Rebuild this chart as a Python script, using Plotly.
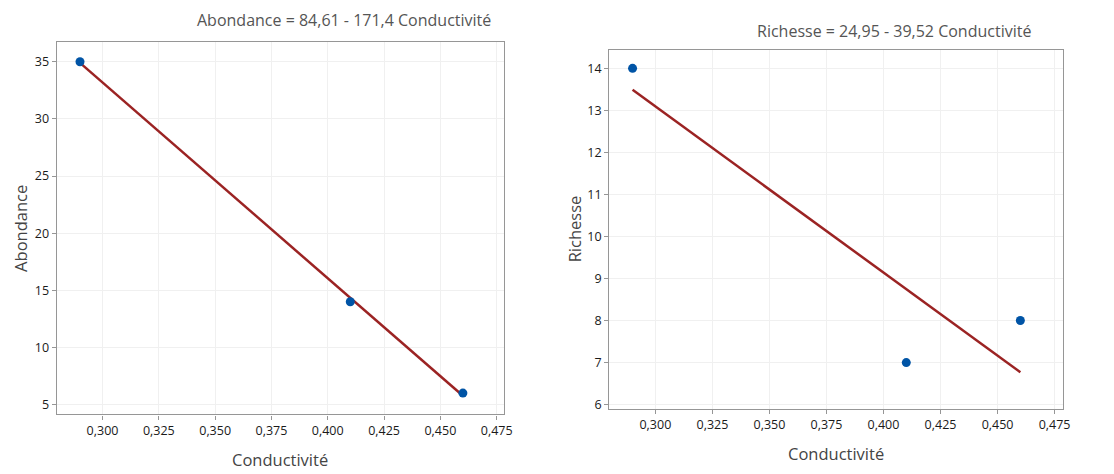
import plotly.graph_objects as go

conductivite = [0.29, 0.41, 0.46]
abondance = [35, 14, 6]
richesse = [14, 7, 8]
coef_abondance = [84.61, -171.4]
coef_richesse = [24.95, -39.52]
x_ticks = [0.300, 0.325, 0.350, 0.375, 0.400, 0.425, 0.450, 0.475]
y_ticks_ab = [5, 10, 15, 20, 25, 30, 35]
y_ticks_ri = [6, 7, 8, 9, 10, 11, 12, 13, 14]

line_x = [min(conductivite), max(conductivite)]
fit_ab = [coef_abondance[0] + coef_abondance[1] * v for v in line_x]
fit_ri = [coef_richesse[0] + coef_richesse[1] * v for v in line_x]

FONT = "Open Sans"
LINE_COLOR = "#9B2323"
PT_COLOR = "#0054A6"

fig = go.Figure()
fig.add_trace(go.Scatter(x=line_x, y=fit_ab, mode="lines", line=dict(color=LINE_COLOR, width=2.5),
                         xaxis="x", yaxis="y", showlegend=False))
fig.add_trace(go.Scatter(x=conductivite, y=abondance, mode="markers",
                         marker=dict(color=PT_COLOR, size=9), xaxis="x", yaxis="y", showlegend=False))
fig.add_trace(go.Scatter(x=line_x, y=fit_ri, mode="lines", line=dict(color=LINE_COLOR, width=2.5),
                         xaxis="x2", yaxis="y2", showlegend=False))
fig.add_trace(go.Scatter(x=conductivite, y=richesse, mode="markers",
                         marker=dict(color=PT_COLOR, size=9), xaxis="x2", yaxis="y2", showlegend=False))

axis_common = dict(showgrid=True, gridcolor="#F0F0F0", gridwidth=1, zeroline=False,
                   showline=True, linecolor="#969696", linewidth=1.3, mirror=True,
                   ticks="outside", ticklen=4, tickcolor="#969696",
                   tickfont=dict(family=FONT, size=12.5, color="#1A1A1A"))

fig.update_layout(
    width=1114, height=474,
    margin=dict(l=0, r=0, t=0, b=0),
    paper_bgcolor="white", plot_bgcolor="white",
    separators=", ",
    xaxis=dict(domain=[0.0514, 0.456], range=[0.2797, 0.4782], tickvals=x_ticks,
               tickformat=".3f", anchor="y", **axis_common),
    yaxis=dict(domain=[0.1181, 0.9114], range=[4.13, 36.76], tickvals=y_ticks_ab,
               anchor="x", **axis_common),
    xaxis2=dict(domain=[0.5514, 0.962], range=[0.2798, 0.4787], tickvals=x_ticks,
                tickformat=".3f", anchor="y2", **axis_common),
    yaxis2=dict(domain=[0.1293, 0.893], range=[5.89, 14.43], tickvals=y_ticks_ri,
                anchor="x2", **axis_common),
)

ann = []
ann.append(dict(text="Abondance = 84,61 - 171,4 Conductivité", x=347, y=474 - 20))
ann.append(dict(text="Richesse = 24,95 - 39,52 Conductivité", x=901, y=474 - 31))
title_font = dict(family=FONT, size=16, color="#555555")
annotations = []
for a in ann:
    annotations.append(dict(text=a["text"], x=a["x"] / 1114, y=a["y"] / 474, xref="paper", yref="paper",
                            showarrow=False, xanchor="center", yanchor="middle", font=title_font))
axis_title_font = dict(family=FONT, size=16.5, color="#444444")
annotations.append(dict(text="Conductivité", x=282.7 / 1114, y=(474 - 463) / 474, xref="paper", yref="paper",
                        showarrow=False, xanchor="center", yanchor="middle", font=axis_title_font))
annotations.append(dict(text="Conductivité", x=843 / 1114, y=(474 - 457) / 474, xref="paper", yref="paper",
                        showarrow=False, xanchor="center", yanchor="middle", font=axis_title_font))
annotations.append(dict(text="Abondance", x=20 / 1114, y=(474 - 230) / 474, xref="paper", yref="paper",
                        showarrow=False, xanchor="center", yanchor="middle", textangle=-90, font=axis_title_font))
annotations.append(dict(text="Richesse", x=579 / 1114, y=(474 - 231) / 474, xref="paper", yref="paper",
                        showarrow=False, xanchor="center", yanchor="middle", textangle=-90, font=axis_title_font))
fig.update_layout(annotations=annotations)

fig.write_html("out.html")
